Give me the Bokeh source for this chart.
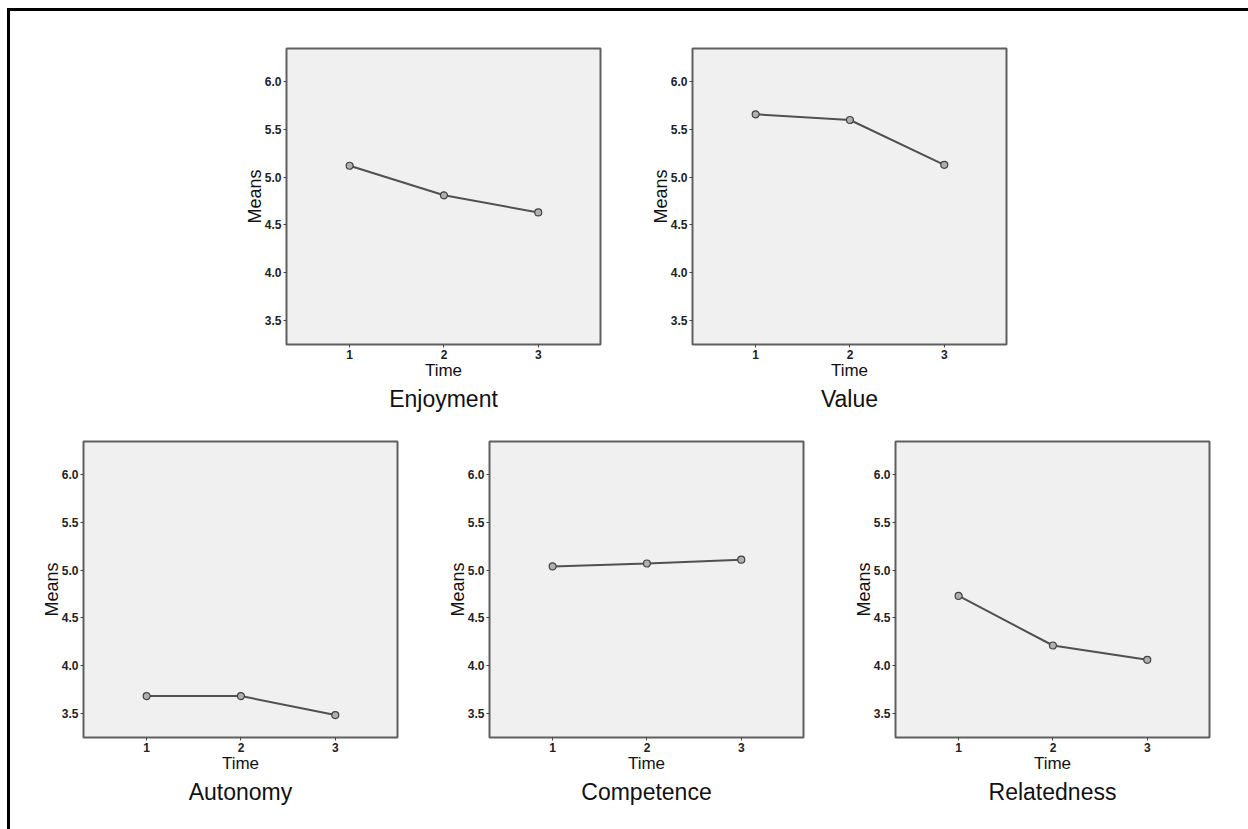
from bokeh.plotting import figure
from bokeh.layouts import row, column
from bokeh.models import Range1d, FixedTicker, PrintfTickFormatter, Title, Spacer
from bokeh.embed import file_html
from bokeh.resources import INLINE

time_points = [1, 2, 3]
y_ticks = [3.5, 4.0, 4.5, 5.0, 5.5, 6.0]
titles = ["Enjoyment", "Value", "Autonomy", "Competence", "Relatedness"]
enjoyment = [5.12, 4.81, 4.63]
value_means = [5.66, 5.60, 5.13]
autonomy = [3.68, 3.68, 3.48]
competence = [5.04, 5.07, 5.11]
relatedness = [4.73, 4.21, 4.06]

FONT = "Liberation Sans"


def panel(title, ys, top, bottom):
    p = figure(frame_width=314, frame_height=296,
               x_range=Range1d(0.33, 3.66), y_range=Range1d(3.245, 6.35),
               output_backend="svg", toolbar_location=None,
               min_border_left=60, min_border_right=10,
               min_border_top=top, min_border_bottom=bottom,
               background_fill_color="#f0f0f0", border_fill_color="white")
    p.outline_line_color = "#5f5f5f"
    p.outline_line_width = 2
    p.xgrid.visible = False
    p.ygrid.visible = False
    for ax in (p.xaxis[0], p.yaxis[0]):
        ax.axis_line_color = None
        ax.major_tick_line_color = "#444444"
        ax.major_tick_out = 3
        ax.major_tick_in = 0
        ax.minor_tick_line_color = None
        ax.major_label_text_font = FONT
        ax.major_label_text_font_size = "12px"
        ax.major_label_text_font_style = "bold"
        ax.major_label_text_color = "#222222"
        ax.axis_label_text_font = FONT
        ax.axis_label_text_font_style = "normal"
        ax.axis_label_text_font_size = "17px"
        ax.axis_label_text_color = "#111111"
        ax.major_label_standoff = 2
    p.xaxis[0].ticker = FixedTicker(ticks=time_points)
    p.xaxis[0].axis_label = "Time"
    p.xaxis[0].axis_label_standoff = -1
    p.yaxis[0].ticker = FixedTicker(ticks=y_ticks)
    p.yaxis[0].formatter = PrintfTickFormatter(format="%.1f")
    p.yaxis[0].axis_label = "Means"
    p.yaxis[0].axis_label_text_font_size = "18px"
    p.yaxis[0].axis_label_standoff = -3
    p.line(time_points, ys, line_color="#505050", line_width=2)
    p.scatter(time_points, ys, size=7, fill_color="#b0b0b0",
              line_color="#404040", line_width=1.2)
    t = Title(text=title, align="center", text_font=FONT,
              text_font_size="23px", text_font_style="normal",
              text_color="#111111", standoff=2)
    p.add_layout(t, "below")
    return p


p1 = panel(titles[0], enjoyment, 37, 90)
p2 = panel(titles[1], value_means, 37, 90)
p3 = panel(titles[2], autonomy, 7, 80)
p4 = panel(titles[3], competence, 7, 80)
p5 = panel(titles[4], relatedness, 7, 80)

row1 = row(Spacer(width=216, height=10), p1, Spacer(width=22, height=10), p2)
row2 = row(Spacer(width=13, height=10), p3, Spacer(width=22, height=10), p4,
           Spacer(width=22, height=10), p5)
content = column(row1, row2)

left_bar = Spacer(width=3, height=818, styles={"background-color": "black"})
top_bar = Spacer(width=1241, height=3, styles={"background-color": "black"})
framed = column(top_bar, row(left_bar, content))
root = column(Spacer(width=10, height=8),
              row(Spacer(width=7, height=10), framed))

open("out.html", "w").write(file_html(root, INLINE))
